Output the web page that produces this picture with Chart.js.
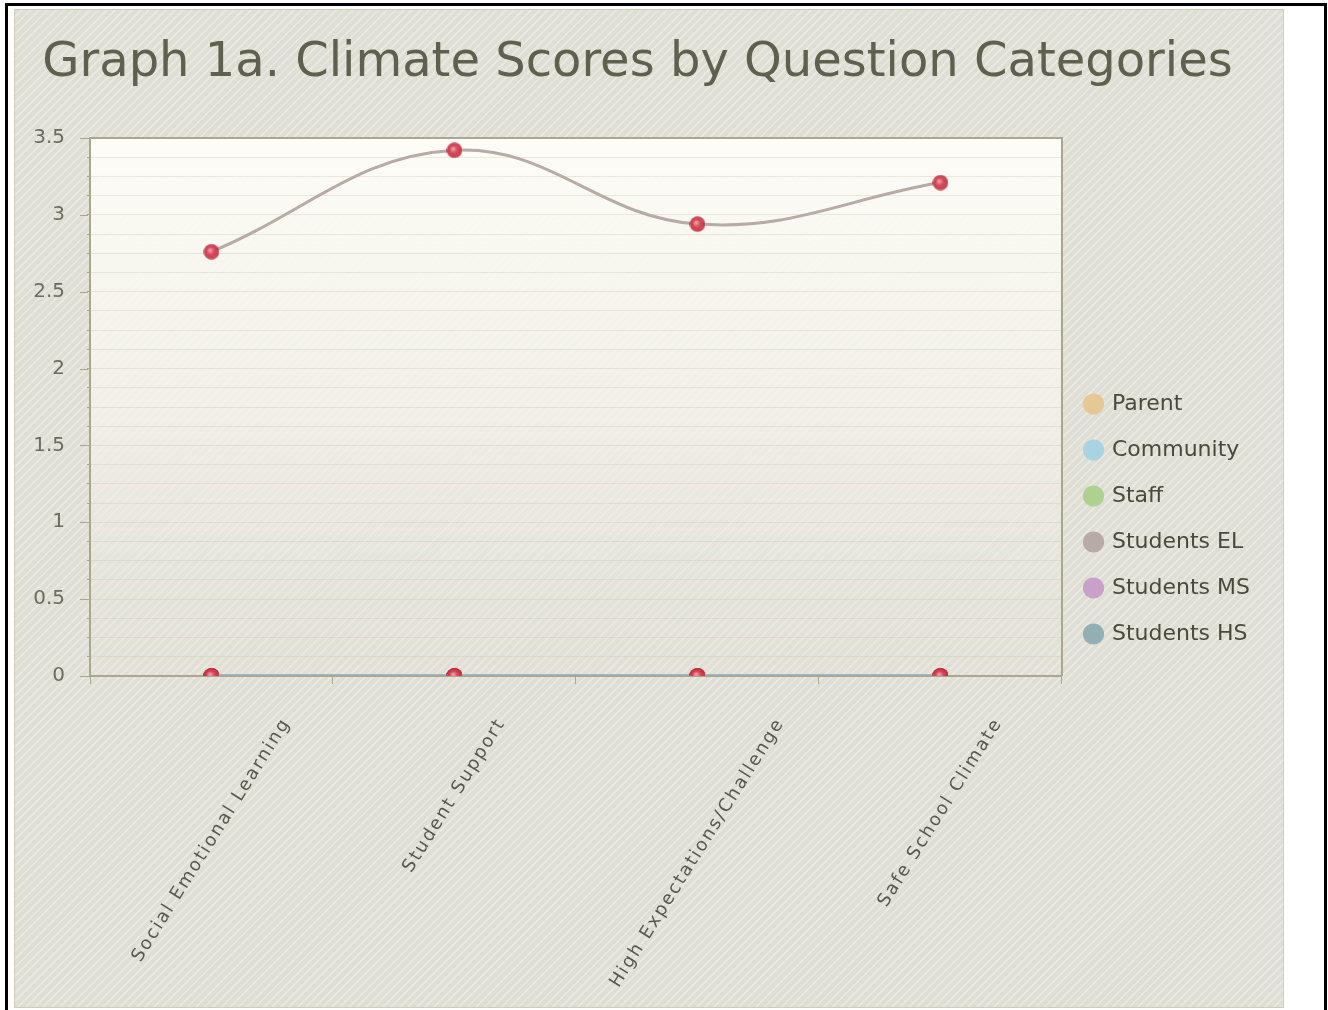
<!DOCTYPE html>
<html>
<head>
<meta charset="utf-8">
<script src="https://cdn.jsdelivr.net/npm/chart.js@4.4.1/dist/chart.umd.min.js"></script>
<style>
  html, body { margin: 0; padding: 0; background: #fff; }
  #marco { position: absolute; left: 5px; top: 3px; width: 1316px; height: 1030px; border: 3px solid #000; }
  #panel {
    position: absolute; left: 14px; top: 9px; width: 1270px; height: 999px;
    box-sizing: border-box; border: 1px solid #cfcdb9;
    background: repeating-linear-gradient(135deg, #dfded4 0px, #dfded4 4px, #e9e8e0 4px, #e9e8e0 6px);
  }
  #grafico { position: absolute; left: 0; top: 0; }
</style>
</head>
<body>
<div id="marco"></div>
<div id="panel"><canvas id="grafico" width="1268" height="997"></canvas></div>
<script>
// Datos del gráfico
const categorias = ['Social Emotional Learning', 'Student Support', 'High Expectations/Challenge', 'Safe School Climate'];
const series = ['Parent', 'Community', 'Staff', 'Students EL', 'Students MS', 'Students HS'];
const colores = ['#e6c896', '#a8d4e2', '#b0d090', '#b8aaa4', '#c8a0c8', '#92b0b4'];

const valoresParent = [0, 0, 0, 0];
const valoresCommunity = [0, 0, 0, 0];
const valoresStaff = [0, 0, 0, 0];
const valoresStudentsEL = [2.76, 3.42, 2.94, 3.21];
const valoresStudentsMS = [0, 0, 0, 0];
const valoresStudentsHS = [0, 0, 0, 0];

const ejeYMin = 0;
const ejeYMax = 3.5;
const ejeYPaso = 0.125;

const valoresPorSerie = [valoresParent, valoresCommunity, valoresStaff, valoresStudentsEL, valoresStudentsMS, valoresStudentsHS];

// Punto rojo tipo esfera
function crearPunto() {
  const c = document.createElement('canvas');
  c.width = 16; c.height = 16;
  const g = c.getContext('2d');
  const grad = g.createRadialGradient(6.5, 6.5, 0.5, 8, 8, 8);
  grad.addColorStop(0, '#f0a0a6');
  grad.addColorStop(0.45, '#d4485a');
  grad.addColorStop(1, 'rgba(190,40,55,0.85)');
  g.fillStyle = grad;
  g.beginPath();
  g.arc(8, 8, 7.8, 0, Math.PI * 2);
  g.fill();
  return c;
}
const punto = crearPunto();

const colorEje = '#aaa690';

// Fondo del área de trazado, marco y etiquetas giradas
const pluginDecoracion = {
  id: 'decoracion',
  beforeDraw(chart) {
    const { ctx, chartArea: a } = chart;
    const grad = ctx.createLinearGradient(0, a.top, 0, a.bottom);
    grad.addColorStop(0, 'rgba(253,252,247,1)');
    grad.addColorStop(0.5, 'rgba(245,243,235,0.8)');
    grad.addColorStop(1, 'rgba(232,230,220,0.2)');
    ctx.save();
    ctx.fillStyle = grad;
    ctx.fillRect(a.left, a.top, a.right - a.left, a.bottom - a.top);
    ctx.restore();
  },
  beforeDatasetsDraw(chart) {
    const { ctx, chartArea: a, scales: { y } } = chart;
    ctx.save();
    ctx.strokeStyle = colorEje;
    ctx.lineWidth = 2;
    ctx.beginPath();
    ctx.moveTo(a.left, a.top);
    ctx.lineTo(a.right, a.top);
    ctx.lineTo(a.right, a.bottom);
    ctx.stroke();
    // marcas principales más largas
    ctx.lineWidth = 1;
    y.ticks.forEach(t => {
      if (t.value % 0.5 !== 0) return;
      const py = Math.round(y.getPixelForValue(t.value)) + 0.5;
      ctx.beginPath();
      ctx.moveTo(a.left - 10, py);
      ctx.lineTo(a.left - 2, py);
      ctx.stroke();
    });
    ctx.restore();
  },
  afterDraw(chart) {
    const { ctx, chartArea: a, scales: { x } } = chart;
    const ang = 58 * Math.PI / 180;
    ctx.save();
    ctx.font = '18px "DejaVu Sans"';
    ctx.letterSpacing = '2px';
    ctx.fillStyle = '#58584c';
    ctx.textAlign = 'center';
    ctx.textBaseline = 'middle';
    categorias.forEach((texto, i) => {
      const w = ctx.measureText(texto).width;
      const px = x.getPixelForValue(i);
      const py = a.bottom + 44 + (w / 2) * Math.sin(ang);
      ctx.save();
      ctx.translate(px, py);
      ctx.rotate(-ang);
      ctx.fillText(texto, 0, 0);
      ctx.restore();
    });
    ctx.restore();
  }
};

new Chart(document.getElementById('grafico'), {
  type: 'line',
  data: {
    labels: categorias,
    datasets: series.map((nombre, i) => ({
      label: nombre,
      data: valoresPorSerie[i],
      borderColor: colores[i],
      backgroundColor: colores[i],
      pointBackgroundColor: colores[i],
      pointBorderColor: colores[i],
      pointBorderWidth: 0,
      pointStyle: punto,
      pointRadius: 8,
      borderWidth: 3,
      tension: 0.4,
      fill: false,
      clip: 0,
      order: series.length - 1 - i
    }))
  },
  options: {
    responsive: false,
    animation: false,
    layout: { padding: { top: 21, right: 23, bottom: 0, left: 0 } },
    scales: {
      x: {
        offset: true,
        border: { color: colorEje, width: 2 },
        grid: { drawOnChartArea: false, offset: true, tickLength: 8, tickColor: colorEje },
        ticks: { display: false },
        afterFit: s => { s.height = 331; }
      },
      y: {
        min: ejeYMin,
        max: ejeYMax,
        border: { color: colorEje, width: 2 },
        grid: { color: 'rgba(190,185,160,0.28)', tickLength: 3, tickColor: colorEje },
        ticks: {
          stepSize: ejeYPaso,
          autoSkip: false,
          padding: 22,
          color: '#6c6c5e',
          font: { family: 'DejaVu Sans', size: 20 },
          callback: v => (v % 0.5 === 0 ? String(v) : '')
        },
        afterFit: s => { s.width = 75; }
      }
    },
    plugins: {
      title: {
        display: true,
        text: 'Graph 1a. Climate Scores by Question Categories',
        color: '#606050',
        font: { family: 'DejaVu Sans', size: 48, weight: 'normal', lineHeight: 1 },
        padding: { top: 9, bottom: 50 }
      },
      legend: {
        position: 'right',
        align: 'center',
        labels: {
          usePointStyle: true,
          pointStyle: 'circle',
          boxWidth: 15,
          boxHeight: 15,
          padding: 24,
          color: '#4a4a3c',
          font: { family: 'DejaVu Sans', size: 22 },
          sort: (a, b) => a.datasetIndex - b.datasetIndex
        }
      },
      tooltip: { enabled: false }
    }
  },
  plugins: [pluginDecoracion]
});
</script>
</body>
</html>
